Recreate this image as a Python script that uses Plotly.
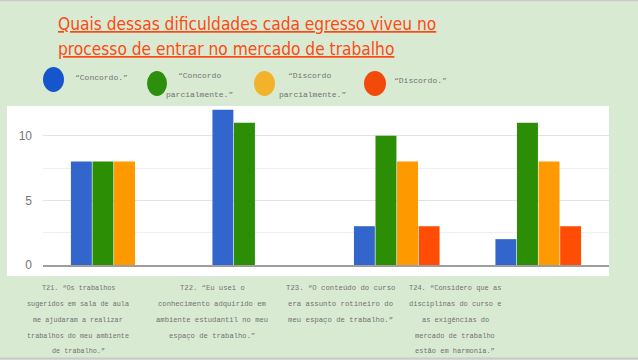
import plotly.graph_objects as go

# ---------------- data ----------------
categories = ["T21", "T22", "T23", "T24"]
series_names = ["“Concordo.”", "“Concordo parcialmente.”",
                "“Discordo parcialmente.”", "“Discordo.”"]
concordo = [8, 12, 3, 2]
concordo_parcial = [8, 11, 10, 11]
discordo_parcial = [8, 0, 8, 8]
discordo = [0, 0, 3, 3]
y_ticks = [0, 5, 10]
category_labels = [
    ["T21. “Os trabalhos", "sugeridos em sala de aula", "me ajudaram a realizar",
     "trabalhos do meu ambiente", "de trabalho.”"],
    ["T22. “Eu usei o", "conhecimento adquirido em", "ambiente estudantil no meu",
     "espaço de trabalho.”"],
    ["T23. “O conteúdo do curso", "era assunto rotineiro do", "meu espaço de trabalho.”"],
    ["T24. “Considero que as", "disciplinas do curso e", "as exigências do",
     "mercado de trabalho", "estão em harmonia.”"],
]
title_lines = ["Quais dessas dificuldades cada egresso viveu no",
               "processo de entrar no mercado de trabalho"]

# ---------------- styles ----------------
bar_colors = ["#3366cc", "#2c8e04", "#ff9900", "#ff4d05"]
legend_colors = ["#1655cc", "#2e8f0c", "#f2b22a", "#f24a0a"]
BG = "#d9ead3"
W, H = 638, 360
L, R, T, B = 43, 29, 107, 95
PW, PH = W - L - R, H - T - B


def px(x):
    return (x - L) / PW


def py(y):
    return (H - B - y) / PH


fig = go.Figure()
for name, vals, col in zip(series_names,
                           [concordo, concordo_parcial, discordo_parcial, discordo],
                           bar_colors):
    fig.add_trace(go.Bar(x=categories, y=vals, name=name, marker_color=col,
                         marker_line_width=0, showlegend=False))

shapes = [
    # white chart card
    dict(type="rect", xref="paper", yref="paper", x0=px(7), x1=px(609),
         y0=py(276), y1=py(106), fillcolor="white", line_width=0, layer="below"),
    # slide border lines
    dict(type="line", xref="paper", yref="paper", x0=px(0), x1=px(638),
         y0=py(0.5), y1=py(0.5), line=dict(color="#c9c9c9", width=1.5)),
    dict(type="line", xref="paper", yref="paper", x0=px(0), x1=px(638),
         y0=py(358.5), y1=py(358.5), line=dict(color="#c9c9c9", width=2)),
]
# legend ellipses
circ = [(43, 64, 67, 92), (147, 167, 71, 96), (254, 275, 71, 96), (364, 386, 71, 96)]
for (x0, x1, y0, y1), col in zip(circ, legend_colors):
    shapes.append(dict(type="circle", xref="paper", yref="paper",
                       x0=px(x0), x1=px(x1), y0=py(y1), y1=py(y0),
                       fillcolor=col, line_width=0))

ann = []
title_font = dict(family="Liberation Sans Narrow, DejaVu Sans Condensed, Roboto",
                  size=17.2, color="#fb4a14")
for i, line in enumerate(title_lines):
    ann.append(dict(xref="paper", yref="paper", x=px(56), y=py(24 + 25 * i),
                    xanchor="left", yanchor="middle", showarrow=False,
                    text="<u>" + line + "</u>", font=title_font))

leg_font = dict(family="Liberation Mono, DejaVu Sans Mono, monospace", size=8,
                color="#727272")
leg_items = [
    ("“Concordo.”", 73, 78, "left"),
    ("“Concordo", 200, 75, "center"),
    ("parcialmente.”", 200, 94, "center"),
    ("“Discordo", 309, 75, "center"),
    ("parcialmente.”", 312, 94, "center"),
    ("“Discordo.”", 392, 80, "left"),
]
for text, x, y, anc in leg_items:
    ann.append(dict(xref="paper", yref="paper", x=px(x), y=py(y), xanchor=anc,
                    yanchor="middle", showarrow=False, text=text, font=leg_font))

label_centers = [78, 212, 340, 455]
label_sizes = [6.8, 7.2, 7.3, 7.0]
line_ys = [288, 304, 320, 336, 351]
for lines, cx, fs in zip(category_labels, label_centers, label_sizes):
    for ln, yy in zip(lines, line_ys):
        ann.append(dict(xref="paper", yref="paper", x=px(cx), y=py(yy),
                        xanchor="center", yanchor="middle", showarrow=False,
                        text=ln, font=dict(family="Liberation Mono, DejaVu Sans Mono, monospace",
                                           size=fs, color="#727272")))

fig.update_layout(
    width=W, height=H,
    margin=dict(l=L, r=R, t=T, b=B, pad=0),
    paper_bgcolor=BG, plot_bgcolor="rgba(0,0,0,0)",
    barmode="group", bargap=0.39, bargroupgap=0.03,
    shapes=shapes, annotations=ann,
    xaxis=dict(showticklabels=False, showgrid=False, showline=True,
               linecolor="#9e9e9e", linewidth=1.5, zeroline=False, ticks=""),
    yaxis=dict(range=[0, 12.22], tickvals=y_ticks, showgrid=True,
               gridcolor="#e2e2e2", gridwidth=1, zeroline=False,
               tickfont=dict(family="Liberation Sans, Arial", size=12, color="#757575"),
               ticklabelstandoff=10,
               minor=dict(dtick=2.5, tick0=0, showgrid=True, gridcolor="#efefef",
                          gridwidth=1)),
)

fig.write_html("out.html", config={"displayModeBar": False},
               post_script="document.body.style.margin='0';document.body.style.background='%s';" % BG)
